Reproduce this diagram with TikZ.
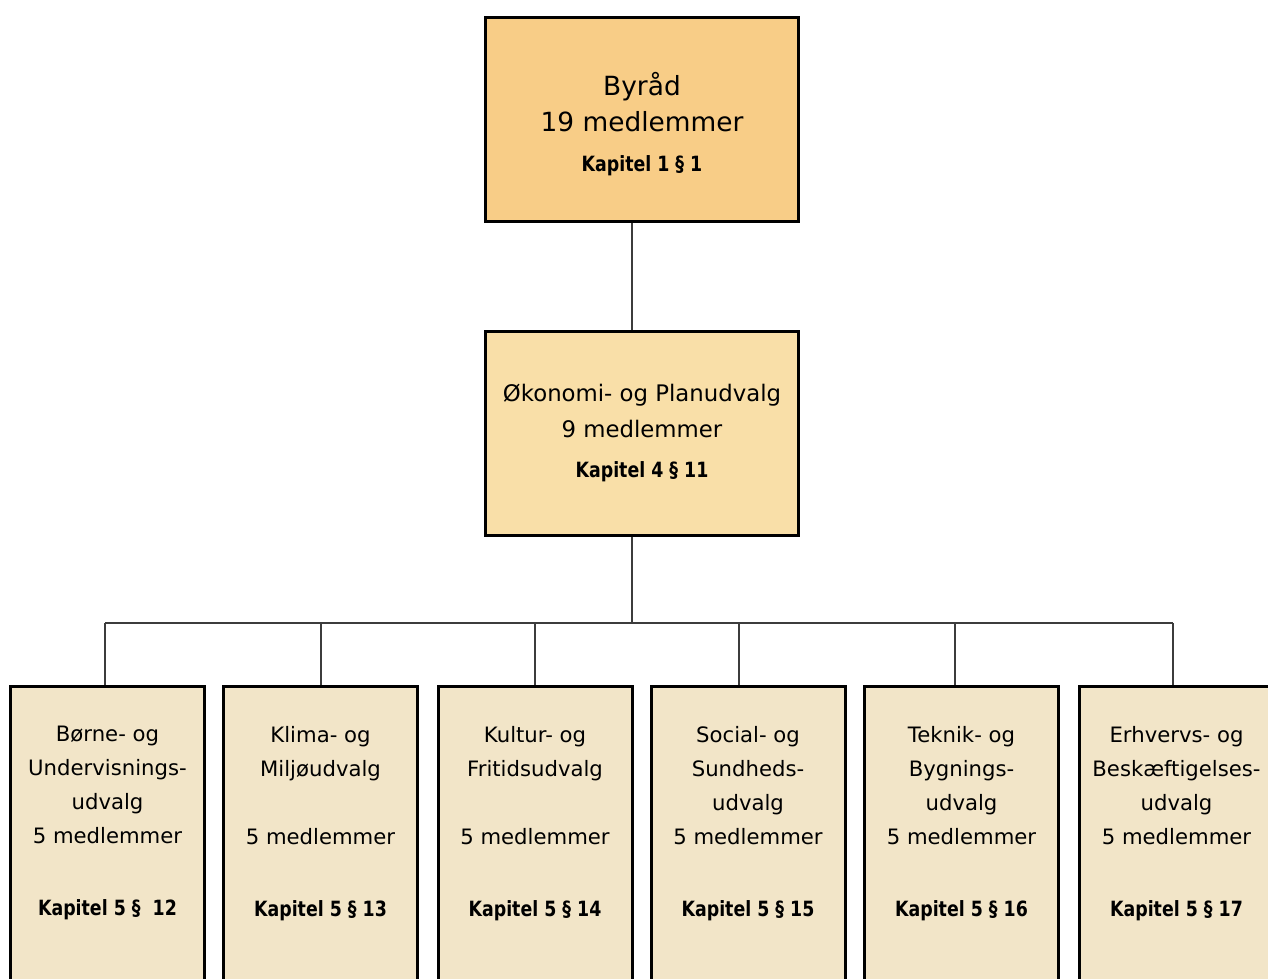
\documentclass[tikz,border=0pt]{standalone}
\usepackage{fontspec}
\setmainfont{DejaVu Sans}
\newfontfamily\kapfont{DejaVu Sans Condensed}[FakeStretch=0.92]
\usepackage{tikz}
\usetikzlibrary{positioning}
\definecolor{byraadfill}{RGB}{248,205,135}
\definecolor{oekfill}{RGB}{249,223,168}
\definecolor{udvalgfill}{RGB}{242,229,200}
\definecolor{linjefarve}{RGB}{60,60,60}
\newcommand{\kapitel}[1]{{\kapfont\bfseries\fontsize{10.5pt}{12pt}\selectfont #1}}
\tikzset{%
  every boks/.style={
    rectangle,
    draw=black,
    line width=1.5pt,
    inner sep=0pt,
    align=center
  },
  boks byraad/.style={
    every boks,
    fill=byraadfill,
    minimum width=156.5pt,
    minimum height=102pt,
    font=\fontsize{13.2pt}{18pt}\selectfont
  },
  boks oek/.style={
    every boks,
    fill=oekfill,
    minimum width=156.5pt,
    minimum height=102pt,
    font=\fontsize{11.4pt}{18pt}\selectfont
  },
  boks udvalg/.style={
    every boks,
    fill=udvalgfill,
    minimum width=97pt,
    minimum height=170pt,
    anchor=north
  },
  udvalg tekst/.style={
    align=center,
    inner sep=0pt,
    anchor=north,
    font=\fontsize{10.6pt}{17pt}\selectfont
  },
  forbindelse/.style={
    draw=linjefarve,
    line width=0.9pt
  }
}

\begin{document}
\begin{tikzpicture}[x=0.5pt, y=-0.5pt]
\useasboundingbox (0,0) rectangle (1268,979);
\clip (0,0) rectangle (1268,979);

    \node[boks byraad] (byraad) at (642,119.5) {\rule{0pt}{16pt}Byråd\\19 medlemmer\\[2pt]\kapitel{Kapitel 1 § 1}};
    \node[boks oek] (oek) at (642,433) {Økonomi- og Planudvalg\\9 medlemmer\\[2pt]\kapitel{Kapitel 4 § 11}};

    \coordinate (gren) at (632,623);

    \foreach \i/\x/\nedfald/\txt/\kap in {%
        1/107.5/105/{Børne- og\\Undervisnings-\\udvalg\\5 medlemmer}/{Kapitel 5 §~ 12},
        2/320.5/321/{Klima- og\\Miljøudvalg\\\mbox{}\\5 medlemmer}/{Kapitel 5 § 13},
        3/535/535/{Kultur- og\\Fritidsudvalg\\\mbox{}\\5 medlemmer}/{Kapitel 5 § 14},
        4/748/739/{Social- og\\Sundheds-\\udvalg\\5 medlemmer}/{Kapitel 5 § 15},
        5/961.5/955/{Teknik- og\\Bygnings-\\udvalg\\5 medlemmer}/{Kapitel 5 § 16},
        6/1176.5/1173/{Erhvervs- og\\Beskæftigelses-\\udvalg\\5 medlemmer}/{Kapitel 5 § 17}}
    {
        \node[boks udvalg] (u\i) at (\x,685) {};
        \node[udvalg tekst] (t\i) at (\x,726) {\txt\\[19pt]\kapitel{\kap}};
        \coordinate (d\i) at (\nedfald,623);
        \draw[forbindelse] (d\i) -- (u\i.north -| d\i);
    }

    % forbindelser
    \draw[forbindelse] (byraad.south -| gren) -- (oek.north -| gren);
    \draw[forbindelse] (oek.south -| gren) -- (gren);
    \draw[forbindelse] (d1) -- (d6);
\end{tikzpicture}
\end{document}
